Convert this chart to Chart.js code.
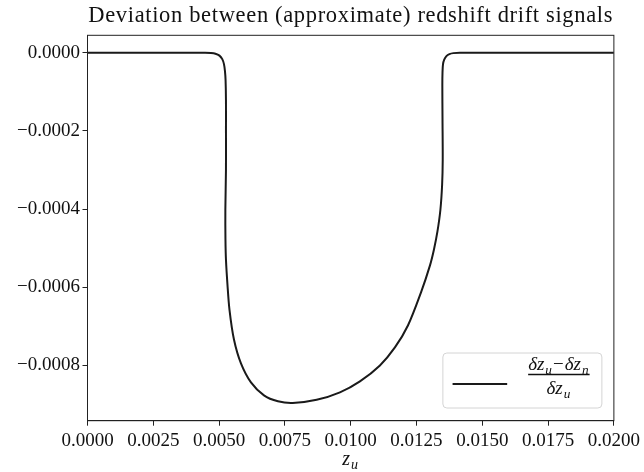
<!DOCTYPE html>
<html>
<head>
<meta charset="utf-8">
<script src="https://cdn.jsdelivr.net/npm/chart.js@4/dist/chart.umd.min.js"></script>
<style>
  html, body { margin: 0; padding: 0; background: #fff; }
  #wrap { width: 644px; height: 472px; }
</style>
</head>
<body>
<div id="wrap"><canvas id="chart" width="644" height="472"></canvas></div>
<script>
// z_u values along the curve (the curve doubles back slightly in x)
var zU = [0, 0.0040, 0.004463, 0.004691, 0.004862, 0.005014, 0.005121, 0.005185, 0.005223, 0.005246,
  0.005261, 0.005261, 0.005261, 0.005238, 0.005242, 0.005261, 0.005318, 0.005394, 0.005565, 0.005831,
  0.006211, 0.006705, 0.007236, 0.007795, 0.008707, 0.009592, 0.010351, 0.011111, 0.011681, 0.012175,
  0.012669, 0.013010, 0.013162, 0.013295, 0.013409, 0.013474, 0.013497, 0.013489, 0.013482, 0.013489,
  0.013508, 0.013554, 0.013637, 0.013751, 0.013903, 0.01415, 0.0160, 0.0200];
// (dz_u - dz_n) / dz_u
var deviation = [0, 0, 0, -0.0000005, -0.0000023, -0.0000072, -0.0000161, -0.0000289, -0.0000467, -0.0000697,
  -0.0001208, -0.0001974, -0.0002996, -0.0004018, -0.0004784, -0.0005295, -0.0005934, -0.0006572, -0.0007339, -0.0007951,
  -0.0008437, -0.0008769, -0.0008922, -0.0008966, -0.0008884, -0.0008692, -0.0008411, -0.0008003, -0.0007543, -0.0006981,
  -0.0006138, -0.0005448, -0.0005040, -0.0004580, -0.0004018, -0.0003379, -0.0002741, -0.0001719, -0.0000825, -0.0000493,
  -0.0000289, -0.0000174, -0.0000084, -0.0000033, -0.0000008, 0, 0, 0];

var xTicks = [0, 0.0025, 0.005, 0.0075, 0.01, 0.0125, 0.015, 0.0175, 0.02];
var yTicks = [-0.0008, -0.0006, -0.0004, -0.0002, 0];

var titleText = 'Deviation between (approximate) redshift drift signals';
var serif = '"Liberation Serif", "Times New Roman", serif';
var ink = '#111111';

var points = zU.map(function (x, i) { return { x: x, y: deviation[i] }; });

function fmt(v) {
  var s = Math.abs(v) < 1e-12 ? '0.0000' : v.toFixed(4);
  return s.replace('-', '\u2212');
}

// draw a little math string: [text, kind] with kind i = italic, r = roman, s = italic subscript
function drawMath(ctx, parts, cx, baseline, size) {
  function fontFor(k) {
    if (k === 's') return 'italic ' + (size * 0.7) + 'px ' + serif;
    if (k === 'i') return 'italic ' + size + 'px ' + serif;
    return size + 'px ' + serif;
  }
  var total = 0;
  var widths = parts.map(function (p) {
    ctx.font = fontFor(p[1]);
    var w = ctx.measureText(p[0]).width + 1;
    total += w;
    return w;
  });
  var x = cx - total / 2;
  ctx.textAlign = 'left';
  ctx.textBaseline = 'alphabetic';
  parts.forEach(function (p, i) {
    ctx.font = fontFor(p[1]);
    ctx.fillText(p[0], x, baseline + (p[1] === 's' ? size * 0.22 : 0));
    x += widths[i];
  });
  return total;
}

var extras = {
  id: 'extras',
  afterDraw: function (chart) {
    var ctx = chart.ctx, a = chart.chartArea;
    var cx = (a.left + a.right) / 2;
    ctx.save();
    // full frame
    ctx.strokeStyle = '#222';
    ctx.lineWidth = 1;
    ctx.strokeRect(a.left, a.top, a.right - a.left, a.bottom - a.top);

    // title, spread to the width of the plot like the original
    ctx.fillStyle = ink;
    ctx.font = '22.5px ' + serif;
    ctx.textAlign = 'center';
    ctx.textBaseline = 'alphabetic';
    var tw = ctx.measureText(titleText).width;
    var spread = (a.right - a.left - 2) - tw;
    if ('letterSpacing' in ctx && spread > 0) {
      ctx.letterSpacing = (spread / (titleText.length - 1)).toFixed(2) + 'px';
    }
    ctx.fillText(titleText, cx, 21.5);
    if ('letterSpacing' in ctx) ctx.letterSpacing = '0px';

    // x axis label z_u
    drawMath(ctx, [['z', 'i'], ['u', 's']], cx, 465, 20);

    // legend
    var w = 159, h = 55;
    var x0 = a.right - 12 - w, y0 = a.bottom - 12.7 - h;
    ctx.beginPath();
    ctx.roundRect(x0, y0, w, h, 4);
    ctx.fillStyle = 'rgba(255,255,255,0.8)';
    ctx.fill();
    ctx.strokeStyle = '#d4d4d4';
    ctx.lineWidth = 1;
    ctx.stroke();

    ctx.beginPath();
    ctx.moveTo(x0 + 9.7, y0 + 31);
    ctx.lineTo(x0 + 64.3, y0 + 31);
    ctx.strokeStyle = '#1a1a1a';
    ctx.lineWidth = 2;
    ctx.stroke();

    ctx.fillStyle = ink;
    var fx = x0 + 116;
    var nw = drawMath(ctx, [['\u03b4z', 'i'], ['u', 's'], ['\u2212', 'r'], ['\u03b4z', 'i'], ['n', 's']], fx, y0 + 17, 19);
    ctx.beginPath();
    ctx.moveTo(fx - nw / 2, y0 + 21.5);
    ctx.lineTo(fx + nw / 2, y0 + 21.5);
    ctx.strokeStyle = ink;
    ctx.lineWidth = 1.3;
    ctx.stroke();
    drawMath(ctx, [['\u03b4z', 'i'], ['u', 's']], fx, y0 + 41, 19);
    ctx.restore();
  }
};

new Chart(document.getElementById('chart'), {
  type: 'scatter',
  data: {
    datasets: [{
      label: '(dz_u - dz_n)/dz_u',
      data: points,
      showLine: true,
      borderColor: '#1a1a1a',
      borderWidth: 2,
      pointRadius: 0,
      tension: 0.3,
      fill: false
    }]
  },
  options: {
    responsive: false,
    animation: false,
    devicePixelRatio: 1,
    layout: { padding: { left: 0, right: 30, top: 35.3, bottom: 0 } },
    plugins: {
      legend: { display: false },
      tooltip: { enabled: false },
      title: { display: false }
    },
    scales: {
      x: {
        type: 'linear',
        min: 0,
        max: 0.02,
        afterBuildTicks: function (s) { s.ticks = xTicks.map(function (v) { return { value: v }; }); },
        afterFit: function (s) { s.height = 51.3; },
        ticks: {
          callback: function (v) { return fmt(v); },
          color: ink,
          font: { family: serif, size: 19 },
          padding: 4,
          maxRotation: 0,
          autoSkip: false
        },
        grid: { drawOnChartArea: false, drawTicks: true, tickLength: 5, tickColor: '#222', tickWidth: 1 },
        border: { display: true, color: '#222', width: 1 }
      },
      y: {
        type: 'linear',
        min: -0.00094185,
        max: 0.00004485,
        afterBuildTicks: function (s) { s.ticks = yTicks.map(function (v) { return { value: v }; }); },
        afterFit: function (s) { s.width = 87.5; },
        ticks: {
          callback: function (v) { return fmt(v); },
          color: ink,
          font: { family: serif, size: 19 },
          padding: 2.5,
          autoSkip: false
        },
        grid: { drawOnChartArea: false, drawTicks: true, tickLength: 5, tickColor: '#222', tickWidth: 1 },
        border: { display: true, color: '#222', width: 1 }
      }
    }
  },
  plugins: [extras]
});
</script>
</body>
</html>
